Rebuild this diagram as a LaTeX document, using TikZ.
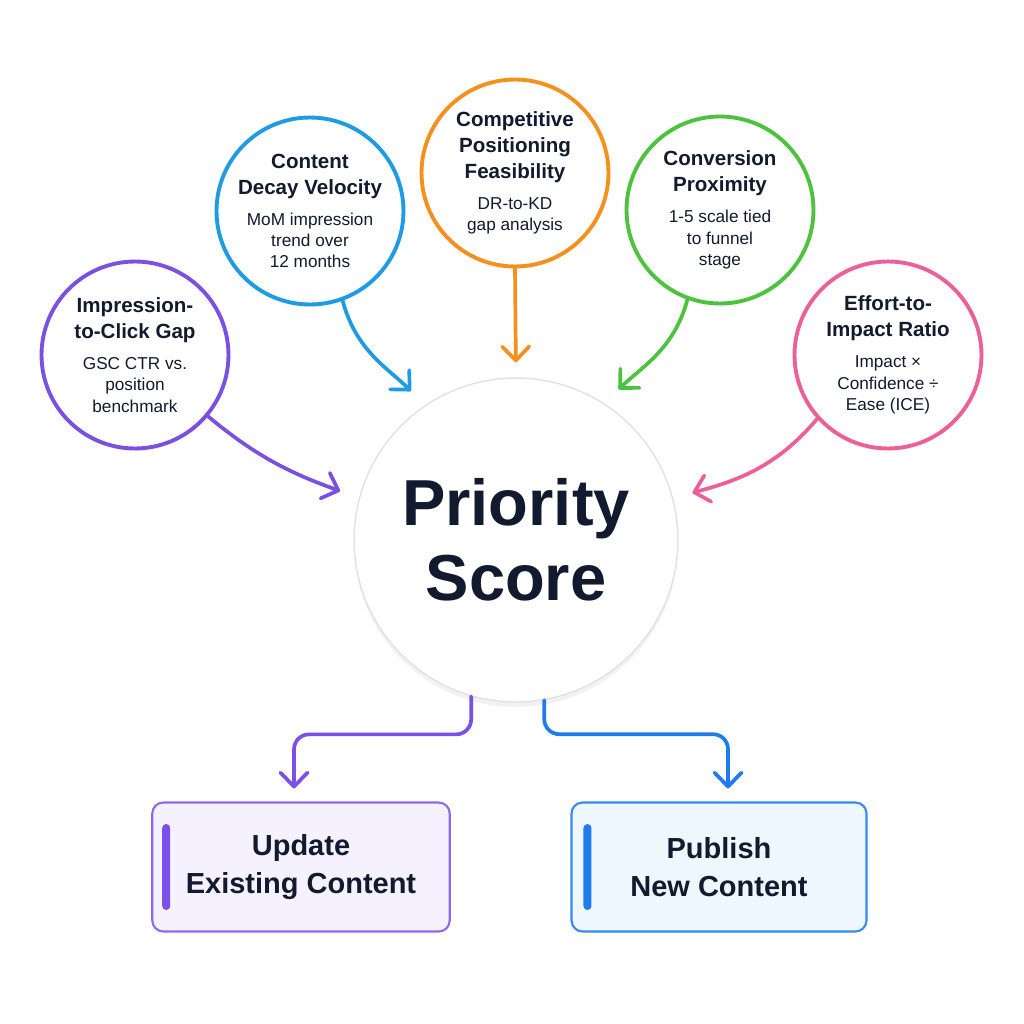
\documentclass[tikz,border=0pt]{standalone}
\usepackage{fontspec}
\setmainfont{Liberation Sans}
\usepackage{tikz}
\usetikzlibrary{arrows.meta,positioning,calc,shadows}
\definecolor{ink}{HTML}{111A2E}
\definecolor{cimp}{HTML}{7B4FDF}
\definecolor{cdec}{HTML}{1E9BE2}
\definecolor{ccomp}{HTML}{F5901F}
\definecolor{cconv}{HTML}{4DC23F}
\definecolor{ceff}{HTML}{EC5F98}
\definecolor{cupd}{HTML}{7B4FE8}
\definecolor{cpub}{HTML}{1E7CEE}
\definecolor{updbg}{HTML}{F6F1FE}
\definecolor{pubbg}{HTML}{EEF6FE}
\definecolor{rulec}{HTML}{E2E2E4}
\newcommand{\ftitle}[1]{{\fontsize{11.7}{14.8}\selectfont\bfseries #1}}
\tikzset{
  factor/.style={circle,line width=2.2pt,fill=white,minimum size=3.74cm,inner sep=0pt,
    align=center,text=ink,font=\fontsize{9.8}{12.2}\selectfont,
    drop shadow={opacity=0.07,shadow xshift=0pt,shadow yshift=-0.6mm}},
  hub/.style={circle,draw=rulec,line width=0.8pt,fill=white,minimum size=6.48cm,
    align=center,text=ink,font=\fontsize{37}{42.7}\selectfont\bfseries,
    drop shadow={opacity=0.10,shadow xshift=0pt,shadow yshift=-1mm}},
  outbox/.style={rectangle,rounded corners=0.22cm,line width=1.2pt,minimum width=5.95cm,
    minimum height=2.58cm,align=center,text=ink,font=\fontsize{16.5}{22}\selectfont\bfseries},
  link/.style={-{Straight Barb[length=2.8mm,width=5.4mm,round]},line width=2.1pt,
    line cap=round,shorten >=0.4cm},
  % --- accent strip inside the two outcome boxes ---
  strip/.style={rounded corners=0.08cm},
}
\begin{document}
\begin{tikzpicture}[x=0.02cm,y=-0.02cm]
  \useasboundingbox[fill=white](0,0)rectangle(1024,1024);
  \node[hub](hub)at(516,540){Priority\\Score};
  \node[factor,draw=cimp](imp)at(135,355){\ftitle{Impression-}\\[2.6pt]\ftitle{to-Click Gap}\\[5.4pt]GSC CTR vs.\\position\\benchmark};
  \node[factor,draw=cdec](dec)at(310,211){\ftitle{Content}\\[2.6pt]\ftitle{Decay Velocity}\\[5.4pt]MoM impression\\trend over\\12 months};
  \node[factor,draw=ccomp](comp)at(515,173){\ftitle{Competitive}\\[2.6pt]\ftitle{Positioning}\\[2.6pt]\ftitle{Feasibility}\\[5.4pt]DR-to-KD\\gap analysis};
  \node[factor,draw=cconv](conv)at(720,210){\ftitle{Conversion}\\[2.6pt]\ftitle{Proximity}\\[5.4pt]1-5 scale tied\\to funnel\\stage};
  \node[factor,draw=ceff](eff)at(888,355){\ftitle{Effort-to-}\\[2.6pt]\ftitle{Impact Ratio}\\[5.4pt]Impact ×\\Confidence ÷\\Ease (ICE)};
  \node[outbox,draw=cupd!85,fill=updbg](upd)at(301,867){Update\\Existing Content};
  \node[outbox,draw=cpub!90,fill=pubbg,minimum width=5.9cm](pub)at(719,867){Publish\\New Content};
  \fill[cupd,strip]($(upd.west)+(11,-43)$)rectangle++(8,86);
  \fill[cpub,strip]($(pub.west)+(13,-43)$)rectangle++(8,86);
  \draw[link,draw=cimp](imp.-40)to[out=-40,in=160](hub.165);
  \draw[link,draw=cdec](dec.-70)to[out=-75,in=135](hub.124);
  \draw[link,draw=ccomp,shorten >=0.3cm](comp.south)--(hub.north);
  \draw[link,draw=cconv](conv.-110)to[out=-105,in=45](hub.57);
  \draw[link,draw=ceff](eff.-138)to[out=-130,in=15](hub.15);
  \draw[link,draw=cupd,rounded corners=0.3cm,shorten >=0.26cm](hub.-106)--++(0,38)-|([xshift=-0.14cm]upd.north);
  \draw[link,draw=cpub,rounded corners=0.3cm,shorten >=0.26cm](hub.-80)--++(0,34)-|([xshift=0.18cm]pub.north);
\end{tikzpicture}
\end{document}
